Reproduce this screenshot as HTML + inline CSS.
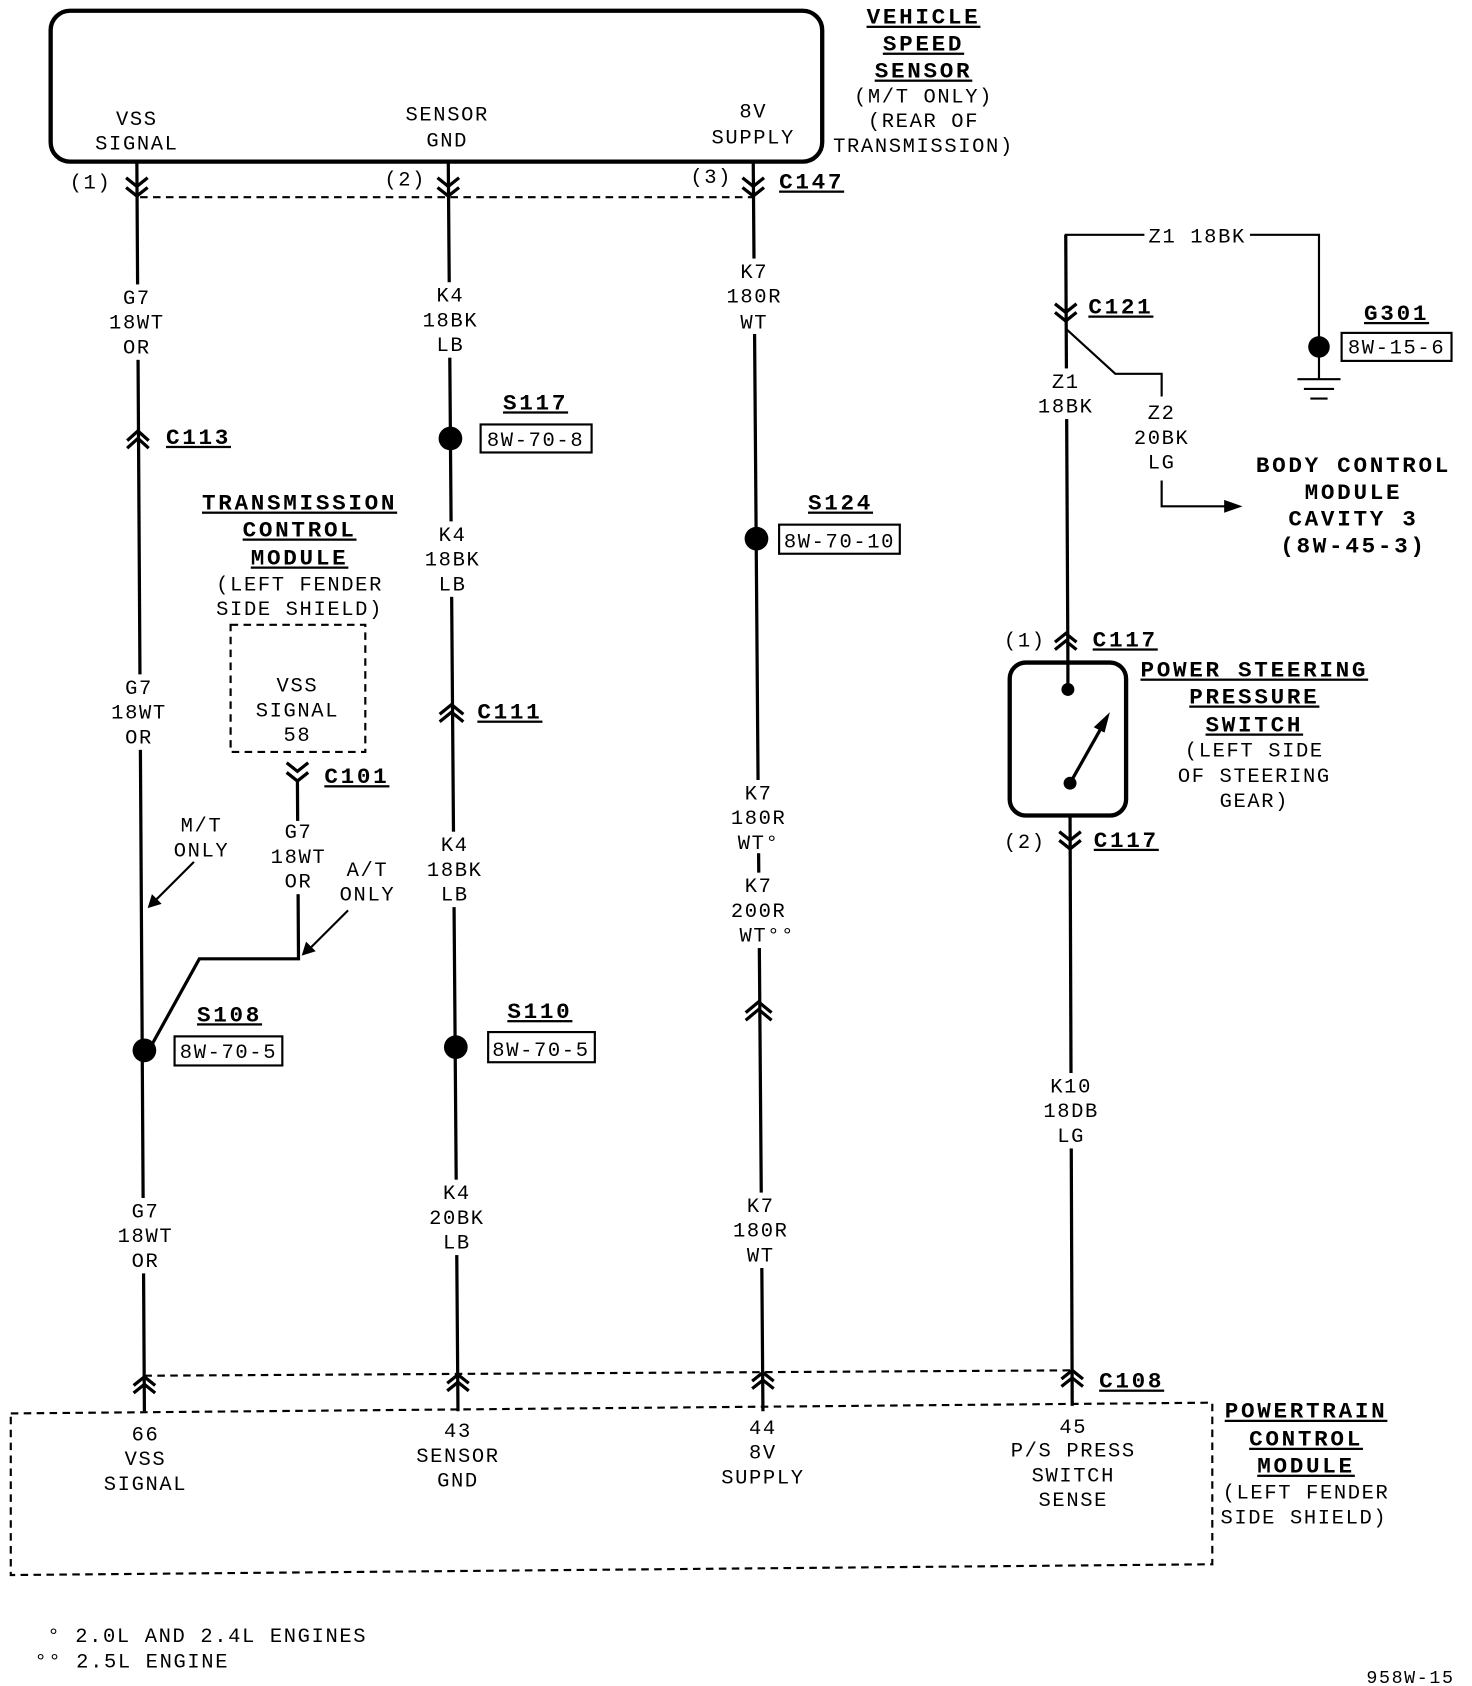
<!DOCTYPE html>
<html><head><meta charset="utf-8"><style>
html,body{margin:0;padding:0;background:#fff}
svg{display:block}
text{font-family:"Liberation Mono",monospace;font-size:19px;fill:#000;text-anchor:middle;letter-spacing:1.5px}
.b{font-weight:bold;font-size:21px;letter-spacing:2.5px;text-decoration:underline}
.bn{font-weight:bold;font-size:21px;letter-spacing:2.5px}
.l{text-anchor:start}
</style></head><body>
<svg width="1472" height="1686" viewBox="0 0 1366 1565" preserveAspectRatio="none" xmlns="http://www.w3.org/2000/svg">
<g fill="none" stroke="#000" stroke-width="3">
<rect x="47" y="10" width="716" height="140" rx="18" stroke-width="4"/>
<line x1="127" y1="150" x2="134" y2="1310"/>
<line x1="416" y1="150" x2="425" y2="1310"/>
<line x1="699" y1="150" x2="708" y2="1310"/>
<line x1="989" y1="218" x2="991" y2="615"/>
<line x1="993" y1="757" x2="995" y2="1305"/>
<path d="M117 165L127 173L137 165M117 174L127 182L137 174"/>
<path d="M406 165L416 173L426 165M406 174L416 182L426 174"/>
<path d="M689 165L699 173L709 165M689 174L699 182L709 174"/>
<line x1="130" y1="183" x2="699" y2="183" stroke-dasharray="7,5" stroke-width="2"/>
<path d="M118 409L128 400L138 409M118 416L128 407L138 416"/>
<path d="M408 663L419 654L430 663M408 670L419 661L430 670"/>
<path d="M692 940L704 930L716 940M692 947L704 937L716 947"/>
<path d="M266 708L276 716L286 708M266 717L276 725L286 717"/>
<polyline points="276,725 277,890 185,890 138,975"/>
</g>
<!-- white masks behind wire labels -->
<g fill="#fff">
<rect x="100" y="264" width="56" height="70"/>
<rect x="100" y="626" width="58" height="70"/>
<rect x="104" y="1112" width="62" height="70"/>
<rect x="390" y="262" width="58" height="70"/>
<rect x="392" y="484" width="58" height="70"/>
<rect x="394" y="772" width="58" height="70"/>
<rect x="396" y="1095" width="58" height="70"/>
<rect x="672" y="240" width="58" height="70"/>
<rect x="676" y="724" width="58" height="68"/>
<rect x="676" y="810" width="70" height="70"/>
<rect x="678" y="1107" width="58" height="70"/>
<rect x="964" y="996" width="62" height="70"/>
<rect x="962" y="342" width="56" height="47"/>
</g>
<g fill="#000">
<circle cx="418" cy="407" r="11"/><circle cx="702" cy="500" r="11"/>
<circle cx="423" cy="972" r="11"/><circle cx="134" cy="975" r="11"/>
<circle cx="1224" cy="322" r="10"/>
<circle cx="991" cy="640" r="6"/><circle cx="993" cy="727" r="6"/>
</g>
<g fill="none" stroke="#000" stroke-width="2">
<rect x="446" y="394" width="103" height="26"/>
<rect x="723" y="487" width="112" height="27"/>
<rect x="453" y="958" width="99" height="28"/>
<rect x="162" y="962" width="100" height="27"/>
<rect x="1245" y="309" width="102" height="26"/>
<rect x="214" y="580" width="125" height="118" stroke-dasharray="7,5"/>
<path d="M10 1312L1125 1302L1125 1452L10 1462Z" stroke-dasharray="7,5"/>
<line x1="134" y1="1277" x2="995" y2="1272" stroke-dasharray="7,5"/>
<line x1="180" y1="800" x2="140" y2="840"/>
<line x1="323" y1="845" x2="283" y2="885"/>
<line x1="704" y1="794" x2="704" y2="806"/>
</g>
<g fill="#000"><path d="M137 843L141 830L150 839Z"/><path d="M280 887L284 874L293 883Z"/></g>
<g fill="none" stroke="#000" stroke-width="3">
<path d="M124 1286L134 1278L144 1286M124 1293L134 1285L144 1293"/>
<path d="M415 1284L425 1276L435 1284M415 1291L425 1283L435 1291"/>
<path d="M698 1282L708 1274L718 1282M698 1289L708 1281L718 1289"/>
<path d="M985 1280L995 1272L1005 1280M985 1287L995 1279L1005 1287"/>
<polyline points="989,285 989,218 1062,218" stroke-width="2"/>
<polyline points="1160,218 1224,218 1224,322" stroke-width="2"/>
<path d="M979 282L989 290L999 282M979 290L989 298L999 290"/>
<polyline points="989,305 1035,347 1078,347 1078,368" stroke-width="2"/>
<polyline points="1078,446 1078,470 1140,470" stroke-width="2"/>
<path d="M979 596L989 588L999 596M979 603L989 595L999 603"/>
<rect x="937" y="615" width="108" height="142" rx="15" stroke-width="4"/>
<line x1="991" y1="615" x2="991" y2="640"/>
<line x1="993" y1="727" x2="1024" y2="672"/>
<path d="M983 772L993 780L1003 772M983 780L993 788L1003 780"/>
<line x1="1204" y1="352" x2="1244" y2="352" stroke-width="2"/>
<line x1="1210" y1="361" x2="1238" y2="361" stroke-width="2"/>
<line x1="1216" y1="370" x2="1232" y2="370" stroke-width="2"/>
<line x1="1224" y1="330" x2="1224" y2="352" stroke-width="2"/>
</g>
<g fill="#000"><path d="M1153 470L1136 464L1136 476Z"/><path d="M1030 661L1015 675L1025 680Z"/></g>
<text x="127" y="116">VSS</text><text x="127" y="139">SIGNAL</text>
<text x="415" y="112">SENSOR</text><text x="415" y="136">GND</text>
<text x="699" y="109">8V</text><text x="699" y="133">SUPPLY</text>
<text class="b" x="857" y="22">VEHICLE</text><text class="b" x="857" y="47">SPEED</text><text class="b" x="857" y="72">SENSOR</text>
<text x="857" y="95">(M/T ONLY)</text><text x="857" y="118">(REAR OF</text><text x="857" y="141">TRANSMISSION)</text>
<text x="84" y="175">(1)</text><text x="376" y="172">(2)</text><text x="660" y="170">(3)</text>
<text class="b l" x="723" y="175">C147</text>
<text x="127" y="282">G7</text><text x="127" y="305">18WT</text><text x="127" y="328">OR</text>
<text class="b l" x="154" y="412">C113</text>
<text x="418" y="280">K4</text><text x="418" y="303">18BK</text><text x="418" y="326">LB</text>
<text class="b" x="497" y="380">S117</text><text x="497" y="414">8W-70-8</text>
<text x="700" y="258">K7</text><text x="700" y="281">180R</text><text x="700" y="305">WT</text>
<text class="b" x="780" y="473">S124</text><text x="779" y="508">8W-70-10</text>
<text x="420" y="502">K4</text><text x="420" y="525">18BK</text><text x="420" y="548">LB</text>
<text class="b l" x="443" y="667">C111</text>
<text x="704" y="742">K7</text><text x="704" y="765">180R</text><text x="704" y="788">WT°</text>
<text x="704" y="828">K7</text><text x="704" y="851">200R</text><text x="712" y="874">WT°°</text>
<text x="422" y="790">K4</text><text x="422" y="813">18BK</text><text x="422" y="836">LB</text>
<text class="b" x="501" y="945">S110</text><text x="502" y="980">8W-70-5</text>
<text x="129" y="644">G7</text><text x="129" y="667">18WT</text><text x="129" y="690">OR</text>
<text x="187" y="772">M/T</text><text x="187" y="795">ONLY</text>
<text class="b" x="278" y="473">TRANSMISSION</text><text class="b" x="278" y="498">CONTROL</text><text class="b" x="278" y="524">MODULE</text>
<text x="278" y="548">(LEFT FENDER</text><text x="278" y="571">SIDE SHIELD)</text>
<text x="276" y="642">VSS</text><text x="276" y="665">SIGNAL</text><text x="276" y="688">58</text>
<text class="b l" x="301" y="727">C101</text>
<rect x="252" y="762" width="50" height="68" fill="#fff"/>
<text x="277" y="778">G7</text><text x="277" y="801">18WT</text><text x="277" y="824">OR</text>
<text x="341" y="813">A/T</text><text x="341" y="836">ONLY</text>
<text class="b" x="213" y="948">S108</text><text x="212" y="982">8W-70-5</text>
<text x="135" y="1130">G7</text><text x="135" y="1153">18WT</text><text x="135" y="1176">OR</text>
<text x="424" y="1113">K4</text><text x="424" y="1136">20BK</text><text x="424" y="1159">LB</text>
<text x="706" y="1125">K7</text><text x="706" y="1148">180R</text><text x="706" y="1171">WT</text>
<text x="994" y="1014">K10</text><text x="994" y="1037">18DB</text><text x="994" y="1060">LG</text>
<text class="b l" x="1020" y="1288">C108</text>
<text x="135" y="1337">66</text><text x="135" y="1360">VSS</text><text x="135" y="1383">SIGNAL</text>
<text x="425" y="1334">43</text><text x="425" y="1357">SENSOR</text><text x="425" y="1380">GND</text>
<text x="708" y="1331">44</text><text x="708" y="1354">8V</text><text x="708" y="1377">SUPPLY</text>
<text x="996" y="1330">45</text><text x="996" y="1352">P/S PRESS</text><text x="996" y="1375">SWITCH</text><text x="996" y="1398">SENSE</text>
<text class="b" x="1212" y="1316">POWERTRAIN</text><text class="b" x="1212" y="1342">CONTROL</text><text class="b" x="1212" y="1367">MODULE</text>
<text x="1212" y="1391">(LEFT FENDER</text><text x="1210" y="1414">SIDE SHIELD)</text>
<text x="1111" y="225">Z1 18BK</text>
<text class="b" x="1296" y="297">G301</text><text x="1296" y="328">8W-15-6</text>
<text class="b l" x="1010" y="291">C121</text>
<text x="989" y="360">Z1</text><text x="989" y="383">18BK</text>
<text x="1078" y="389">Z2</text><text x="1078" y="412">20BK</text><text x="1078" y="435">LG</text>
<text class="bn" x="1256" y="438">BODY CONTROL</text><text class="bn" x="1256" y="463">MODULE</text><text class="bn" x="1256" y="488">CAVITY 3</text><text class="bn" x="1256" y="513">(8W-45-3)</text>
<text x="951" y="600">(1)</text><text class="b l" x="1014" y="600">C117</text>
<text x="951" y="787">(2)</text><text class="b l" x="1015" y="786">C117</text>
<text class="b" x="1164" y="628">POWER STEERING</text><text class="b" x="1164" y="653">PRESSURE</text><text class="b" x="1164" y="679">SWITCH</text>
<text x="1164" y="702">(LEFT SIDE</text><text x="1164" y="726">OF STEERING</text><text x="1164" y="749">GEAR)</text>
<text class="l" x="44" y="1524">° 2.0L AND 2.4L ENGINES</text>
<text class="l" x="32" y="1548">°° 2.5L ENGINE</text>
<text class="l" x="1268" y="1562" style="font-size:17px">958W-15</text>
</svg>
</body></html>
